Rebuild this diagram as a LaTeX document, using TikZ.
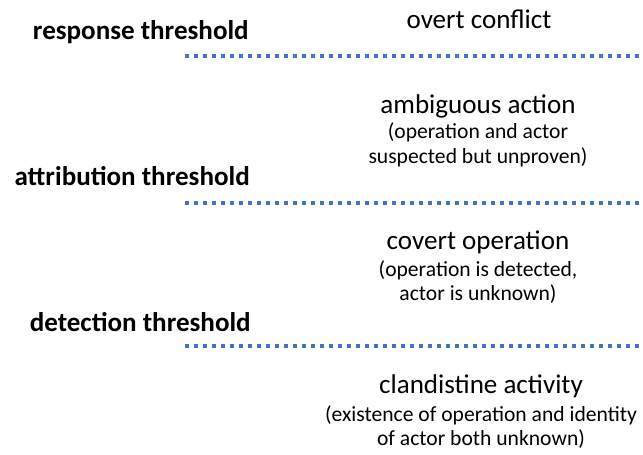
\documentclass[tikz,border=0pt]{standalone}
\usepackage{fontspec}
\setmainfont{Carlito}
\definecolor{lineblue}{HTML}{4472C4}
\begin{document}
\begin{tikzpicture}[x=0.75pt,y=-0.75pt,
  thr/.style={font=\bfseries\fontsize{20.3}{24}\selectfont, anchor=east, inner sep=0pt},
  head/.style={font=\fontsize{20.3}{24}\selectfont, inner sep=0pt},
  sub/.style={font=\fontsize{16.2}{18.5}\selectfont, align=center, inner sep=0pt},
  level/.style={draw=lineblue, line width=2.6pt, dash pattern=on 3pt off 3.75pt}]
\useasboundingbox (0,0) rectangle (643,454);
% threshold labels
\node[thr] (rt) at (249,32) {response threshold};
\node[thr] (at) at (250,176) {attribution threshold};
\node[thr] (dt) at (251,322) {detection threshold};
% threshold lines
\coordinate (l1a) at (185,56);  \coordinate (l1b) at (643,56);
\coordinate (l2a) at (185,203); \coordinate (l2b) at (643,203);
\coordinate (l3a) at (185,346); \coordinate (l3b) at (643,346);
\draw[level] (l1a) -- (l1b);
\draw[level] (l2a) -- (l2b);
\draw[level] (l3a) -- (l3b);
% activity categories
\node[head] (oc) at (479,19) {overt conflict};
\node[head] (aa) at (478,106) {ambiguous action};
\node[sub] (aas) at (478,145) {(operation and actor\\suspected but unproven)};
\node[head] (co) at (478,242) {covert operation};
\node[sub] (cos) at (478,282) {(operation is detected,\\actor is unknown)};
\node[head] (ca) at (481,386) {clandistine activity};
\node[sub] (cas) at (481,427) {(existence of operation and identity\\of actor both unknown)};
\end{tikzpicture}
\end{document}
